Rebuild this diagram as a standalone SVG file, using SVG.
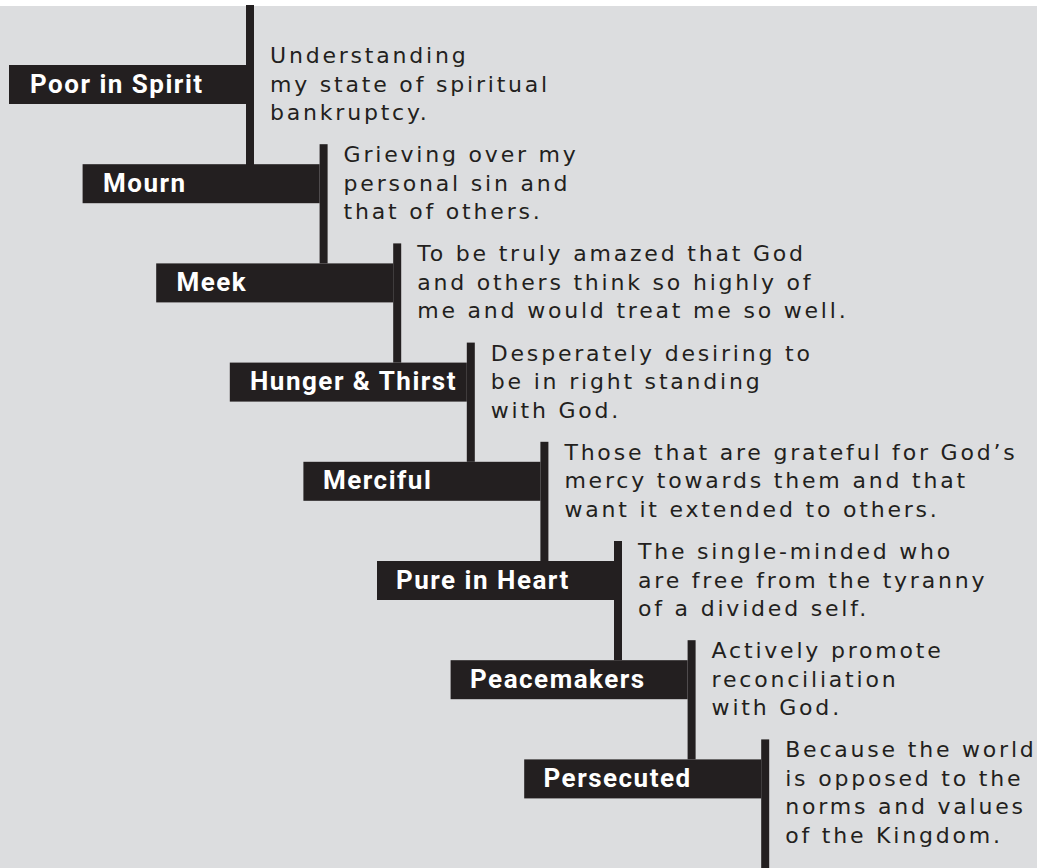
<svg xmlns="http://www.w3.org/2000/svg" width="1037" height="868" viewBox="0 0 1037 868">
<style>
.bar{fill:#231f20}
.ln{fill:#231f20}
.lbl{font-family:Roboto,"Liberation Sans",sans-serif;font-weight:700;font-size:26px;letter-spacing:1.5px;fill:#ffffff}
.desc{font-family:"DejaVu Sans","Liberation Sans",sans-serif;font-size:22px;letter-spacing:2.8px;fill:#231f20}
</style>
<rect x="0" y="0" width="1037" height="868" fill="#ffffff"/>
<rect x="0" y="6" width="1037" height="862" fill="#dcdddf"/>
<g id="connectors">
<rect class="ln" x="246" y="5" width="8" height="160"/>
<rect class="ln" x="319.6" y="144.2" width="8" height="119.2"/>
<rect class="ln" x="393.2" y="243.4" width="8" height="119.2"/>
<rect class="ln" x="466.8" y="342.6" width="8" height="119.2"/>
<rect class="ln" x="540.4" y="441.8" width="8" height="119.2"/>
<rect class="ln" x="614" y="541" width="8" height="119.2"/>
<rect class="ln" x="687.6" y="640.2" width="8" height="119.2"/>
<rect class="ln" x="761.2" y="739.4" width="8" height="128.6"/>
</g>
<g id="poor">
<rect class="bar" x="9" y="65" width="237" height="39"/>
<text class="lbl" x="30" y="92.5">Poor in Spirit</text>
<text class="desc" x="270" y="63"><tspan x="270">Understanding</tspan><tspan x="270" dy="28.5">my state of spiritual</tspan><tspan x="270" dy="28.5">bankruptcy.</tspan></text>
</g>
<g id="mourn">
<rect class="bar" x="82.6" y="164.2" width="237" height="39"/>
<text class="lbl" x="103" y="191.7">Mourn</text>
<text class="desc" x="343.6" y="162.2"><tspan x="343.6">Grieving over my</tspan><tspan x="343.6" dy="28.5">personal sin and</tspan><tspan x="343.6" dy="28.5">that of others.</tspan></text>
</g>
<g id="meek">
<rect class="bar" x="156.2" y="263.4" width="237" height="39"/>
<text class="lbl" x="176.5" y="290.9">Meek</text>
<text class="desc" x="417.2" y="261.4"><tspan x="417.2">To be truly amazed that God</tspan><tspan x="417.2" dy="28.5">and others think so highly of</tspan><tspan x="417.2" dy="28.5">me and would treat me so well.</tspan></text>
</g>
<g id="hunger">
<rect class="bar" x="229.8" y="362.6" width="237" height="39"/>
<text class="lbl" x="250" y="390.1">Hunger &amp; Thirst</text>
<text class="desc" x="490.8" y="360.6"><tspan x="490.8">Desperately desiring to</tspan><tspan x="490.8" dy="28.5">be in right standing</tspan><tspan x="490.8" dy="28.5">with God.</tspan></text>
</g>
<g id="merciful">
<rect class="bar" x="303.4" y="461.8" width="237" height="39"/>
<text class="lbl" x="323" y="489.3">Merciful</text>
<text class="desc" x="564.4" y="459.8"><tspan x="564.4">Those that are grateful for God’s</tspan><tspan x="564.4" dy="28.5">mercy towards them and that</tspan><tspan x="564.4" dy="28.5">want it extended to others.</tspan></text>
</g>
<g id="pure">
<rect class="bar" x="377" y="561" width="237" height="39"/>
<text class="lbl" x="396" y="588.5">Pure in Heart</text>
<text class="desc" x="638" y="559"><tspan x="638">The single-minded who</tspan><tspan x="638" dy="28.5">are free from the tyranny</tspan><tspan x="638" dy="28.5">of a divided self.</tspan></text>
</g>
<g id="peacemakers">
<rect class="bar" x="450.6" y="660.2" width="237" height="39"/>
<text class="lbl" x="470" y="687.7">Peacemakers</text>
<text class="desc" x="711.6" y="658.2"><tspan x="711.6">Actively promote</tspan><tspan x="711.6" dy="28.5">reconciliation</tspan><tspan x="711.6" dy="28.5">with God.</tspan></text>
</g>
<g id="persecuted">
<rect class="bar" x="524.2" y="759.4" width="237" height="39"/>
<text class="lbl" x="543.5" y="786.9">Persecuted</text>
<text class="desc" x="785.2" y="757.4"><tspan x="785.2">Because the world</tspan><tspan x="785.2" dy="28.5">is opposed to the</tspan><tspan x="785.2" dy="28.5">norms and values</tspan><tspan x="785.2" dy="28.5">of the Kingdom.</tspan></text>
</g>
</svg>
